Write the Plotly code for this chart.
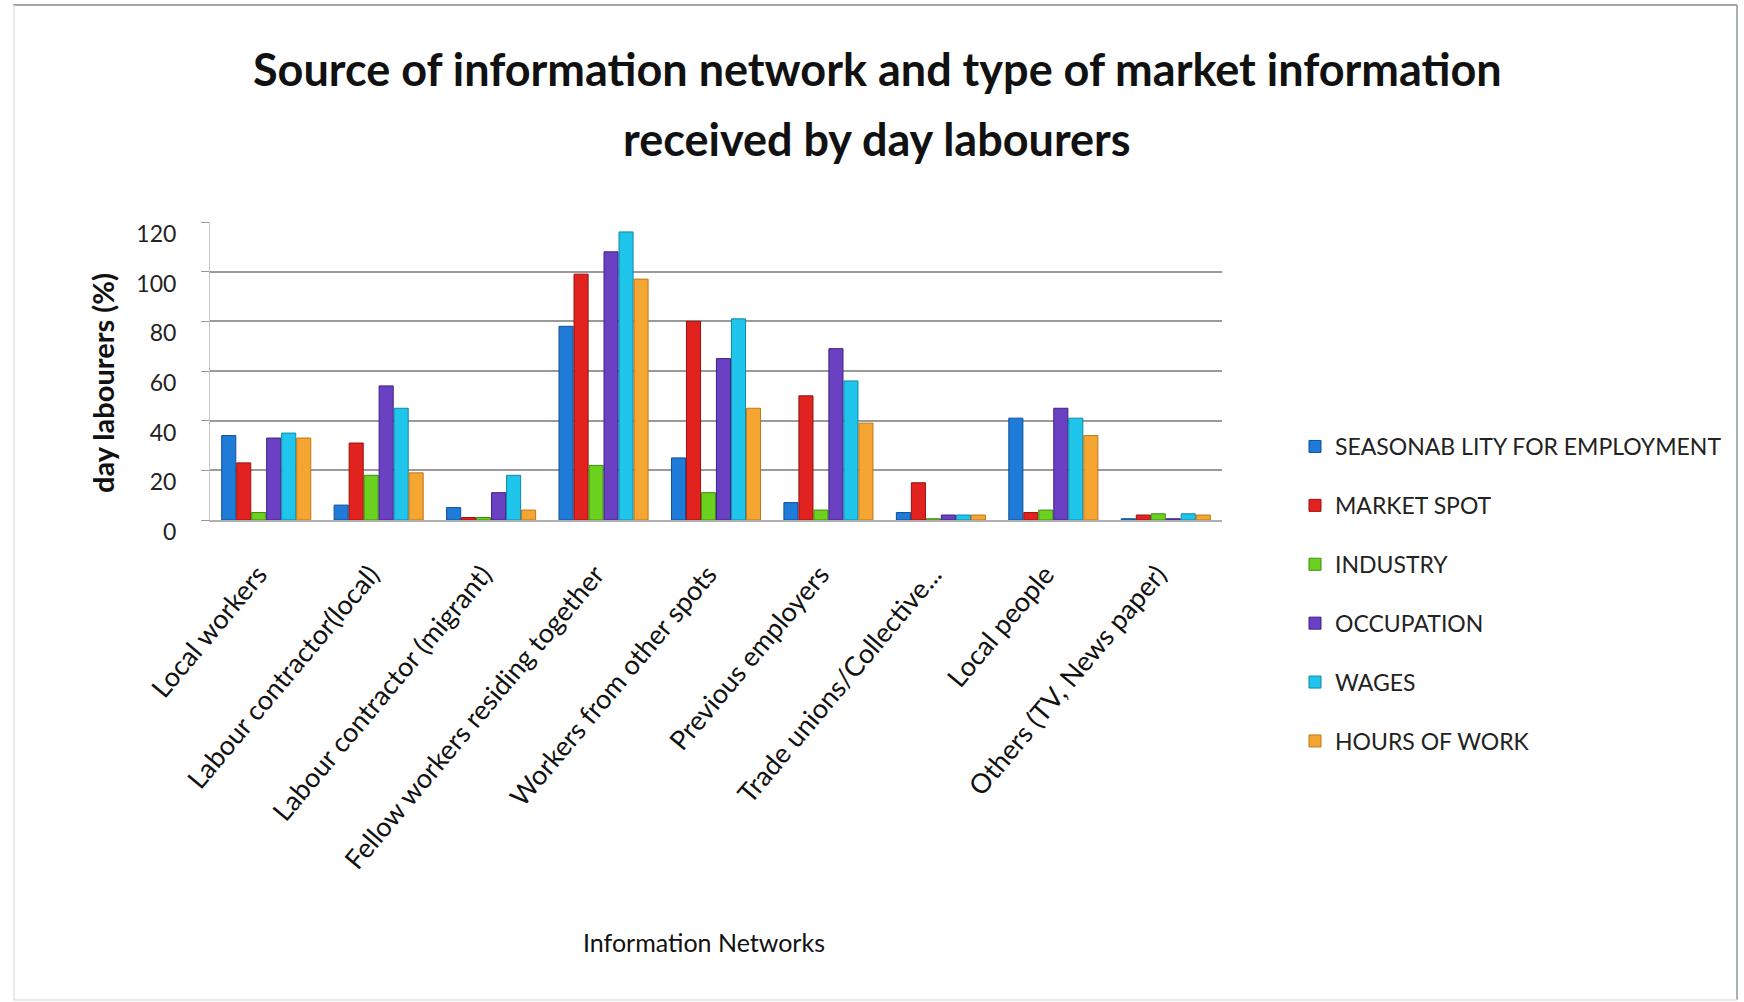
import plotly.graph_objects as go

# Information networks (x categories)
networks = [
    "Local workers",
    "Labour contractor(local)",
    "Labour contractor (migrant)",
    "Fellow workers residing together",
    "Workers from other spots",
    "Previous employers",
    "Trade unions/Collective...",
    "Local people",
    "Others (TV, News paper)",
]

# Type of market information received (% of day labourers)
seasonability = [34, 6, 5, 78, 25, 7, 3, 41, 0.5]
market_spot = [23, 31, 1, 99, 80, 50, 15, 3, 2]
industry = [3, 18, 1, 22, 11, 4, 0.5, 4, 2.5]
occupation = [33, 54, 11, 108, 65, 69, 2, 45, 0.5]
wages = [35, 45, 18, 116, 81, 56, 2, 41, 2.5]
hours_of_work = [33, 19, 4, 97, 45, 39, 2, 34, 2]

series_names = [
    "SEASONAB LITY FOR EMPLOYMENT",
    "MARKET SPOT",
    "INDUSTRY",
    "OCCUPATION",
    "WAGES",
    "HOURS OF WORK",
]
series_values = [seasonability, market_spot, industry, occupation, wages, hours_of_work]
series_colors = ["#1f7bd8", "#e2221e", "#6bd11f", "#6b41c4", "#1fc5ea", "#f5a531"]
series_edges = ["#0d4f96", "#9c1010", "#3f8a0e", "#3d2186", "#0f88a6", "#c2761a"]

FONT = "Lato"

fig = go.Figure()
for i, (name, vals, col, edge) in enumerate(zip(series_names, series_values, series_colors, series_edges)):
    fig.add_trace(go.Bar(
        x=networks, y=vals, name=name, legendgroup=f"g{i}",
        marker=dict(color=col, line=dict(color=edge, width=1)),
    ))

# plot domain in pixels
L, R, T, B = 210, 1222, 222, 520
W, H = 1744, 1002

def px_to_paper_x(px):
    return (px - L) / (R - L)

def px_to_paper_y(py):
    return (B - py) / (B - T)

def frame_line(x0, y0, x1, y1, color):
    return dict(type="line", xref="paper", yref="paper",
                x0=px_to_paper_x(x0), y0=px_to_paper_y(y0),
                x1=px_to_paper_x(x1), y1=px_to_paper_y(y1),
                line=dict(color=color, width=1.5), layer="below")

fig.update_layout(
    width=W, height=H,
    margin=dict(l=L, r=W - R, t=T, b=H - B, autoexpand=False),
    paper_bgcolor="white", plot_bgcolor="white",
    barmode="group", bargap=0.2, bargroupgap=0.06,
    font=dict(family=FONT, color="#111"),
    showlegend=True,
    legend=dict(
        x=px_to_paper_x(1295), y=px_to_paper_y(425), xanchor="left", yanchor="top",
        font=dict(family=FONT, size=23, color="#222"),
        tracegroupgap=26, maxheight=600, bgcolor="rgba(0,0,0,0)",
    ),
    xaxis=dict(
        tickangle=-50, tickfont=dict(family=FONT, size=27, color="#111"),
        showline=True, linecolor="#b0b0b0", linewidth=2,
        showgrid=False, ticks="", ticklabelstandoff=26, ticklabelshift=-8,
    ),
    yaxis=dict(
        range=[0, 120], dtick=20, tickfont=dict(family=FONT, size=23, color="#222"),
        showgrid=True, gridcolor="#9a9a9a", gridwidth=1.5,
        showline=True, linecolor="#c8c8c8", linewidth=1,
        ticks="outside", ticklen=8, tickcolor="#999",
        ticklabelstandoff=20, ticklabelshift=12, zeroline=False,
    ),
    annotations=[
        dict(text="Source of information network and type of market information",
             x=px_to_paper_x(877), y=px_to_paper_y(69), xref="paper", yref="paper",
             showarrow=False, xanchor="center", yanchor="middle",
             font=dict(family=FONT, size=45, color="#111", weight="bold")),
        dict(text="received by day labourers",
             x=px_to_paper_x(877), y=px_to_paper_y(139), xref="paper", yref="paper",
             showarrow=False, xanchor="center", yanchor="middle",
             font=dict(family=FONT, size=45, color="#111", weight="bold")),
        dict(text="day labourers (%)", textangle=-90,
             x=px_to_paper_x(102), y=px_to_paper_y(383), xref="paper", yref="paper",
             showarrow=False, xanchor="center", yanchor="middle",
             font=dict(family=FONT, size=29, color="#111", weight="bold")),
        dict(text="Information Networks",
             x=px_to_paper_x(704), y=px_to_paper_y(942), xref="paper", yref="paper",
             showarrow=False, xanchor="center", yanchor="middle",
             font=dict(family=FONT, size=25, color="#111")),
    ],
    shapes=[
        frame_line(13, 5, 1737, 5, "#8a8a8a"),
        frame_line(1737, 5, 1737, 1000, "#8a9a90"),
        frame_line(14, 5, 14, 1000, "#e2e2e2"),
        frame_line(14, 1000, 1737, 1000, "#e2e2e2"),
    ],
)

fig.write_html("out.html")
